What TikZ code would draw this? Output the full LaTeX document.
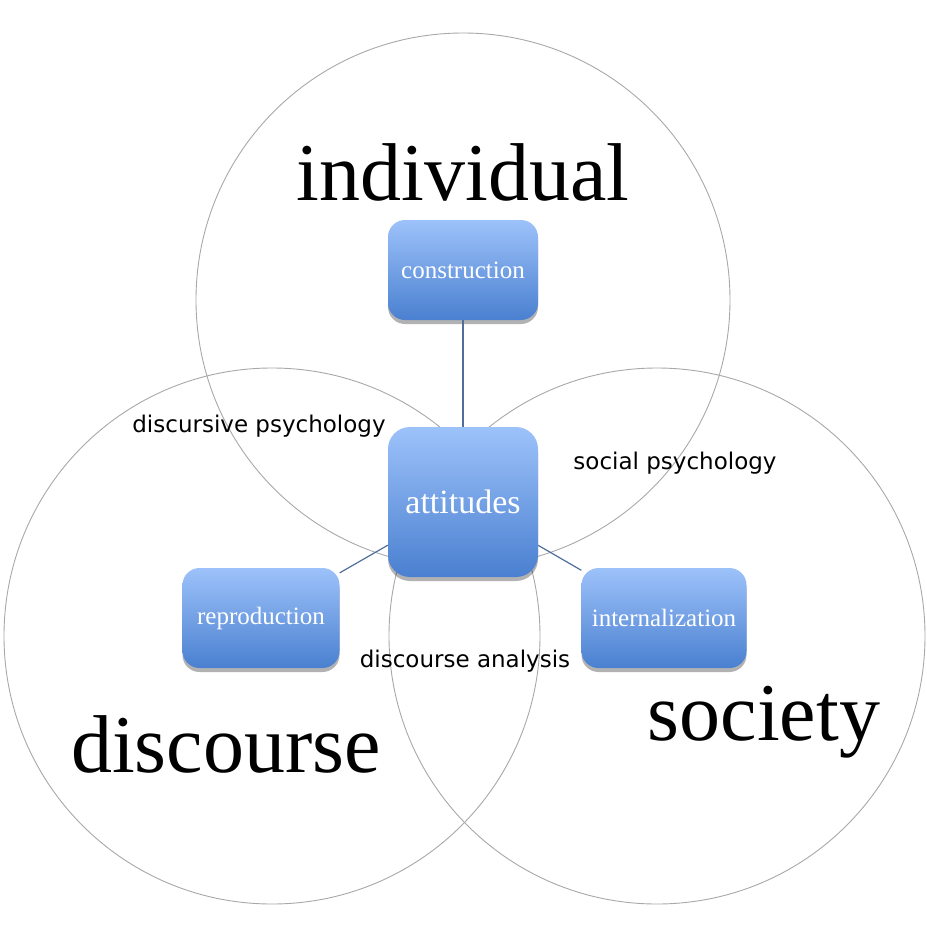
\documentclass[tikz,border=0pt]{standalone}
\usepackage{fontspec}
\setmainfont{Liberation Serif}
\newfontfamily\labelfont{DejaVu Sans}
\usetikzlibrary{shadows}
\definecolor{boxtop}{HTML}{9DC2FA}
\definecolor{boxbottom}{HTML}{4A80D0}
\definecolor{ringgray}{HTML}{A8A8A8}
\definecolor{linkblue}{HTML}{4F6E9C}
\begin{document}
\begin{tikzpicture}[x=1pt,y=-1pt,
    ring/.style={draw=ringgray, line width=0.9pt},
    concept/.style={rounded corners=17pt, top color=boxtop, bottom color=boxbottom,
        text=white, font=\fontsize{25}{30}\selectfont, inner sep=0pt,
        minimum height=100pt,
        drop shadow={shadow xshift=0pt, shadow yshift=-4pt, opacity=0.3, fill=black}},
    area/.style={font=\fontsize{82}{90}\selectfont},
    field/.style={font=\labelfont\fontsize{23}{26}\selectfont},
    link/.style={draw=linkblue, line width=1.2pt}]
  \useasboundingbox (0,0) rectangle (927,938);
  % three overlapping fields
  \draw[ring] (463,300) circle (267);
  \draw[ring] (272,636) circle (268);
  \draw[ring] (657,636) circle (268);
  % big labels
  \node[area] (indiv) at (463,172) {individual};
  \node[area] (disc) at (226,744) {discourse};
  \node[area] (soc) at (764,722) {society};
  % small labels
  \node[field] (dpsy) at (259,426) {discursive psychology};
  \node[field] (spsy) at (675,463) {social psychology};
  \node[field] (dana) at (465,661) {discourse analysis};
  % boxes
  \node[concept, minimum width=150pt] (constr) at (463,270) {construction};
  \node[concept, minimum width=150pt, minimum height=150pt, rounded corners=22pt,
        font=\fontsize{34}{40}\selectfont] (att) at (463,502) {attitudes};
  \node[concept, minimum width=157pt] (repro) at (261,618) {reproduction};
  \node[concept, minimum width=165pt] (intern) at (664,618) {internalization};
  % links
  \draw[link] (constr) -- (att);
  \draw[link] (att) -- (repro);
  \draw[link] (att) -- (intern);
\end{tikzpicture}
\end{document}
